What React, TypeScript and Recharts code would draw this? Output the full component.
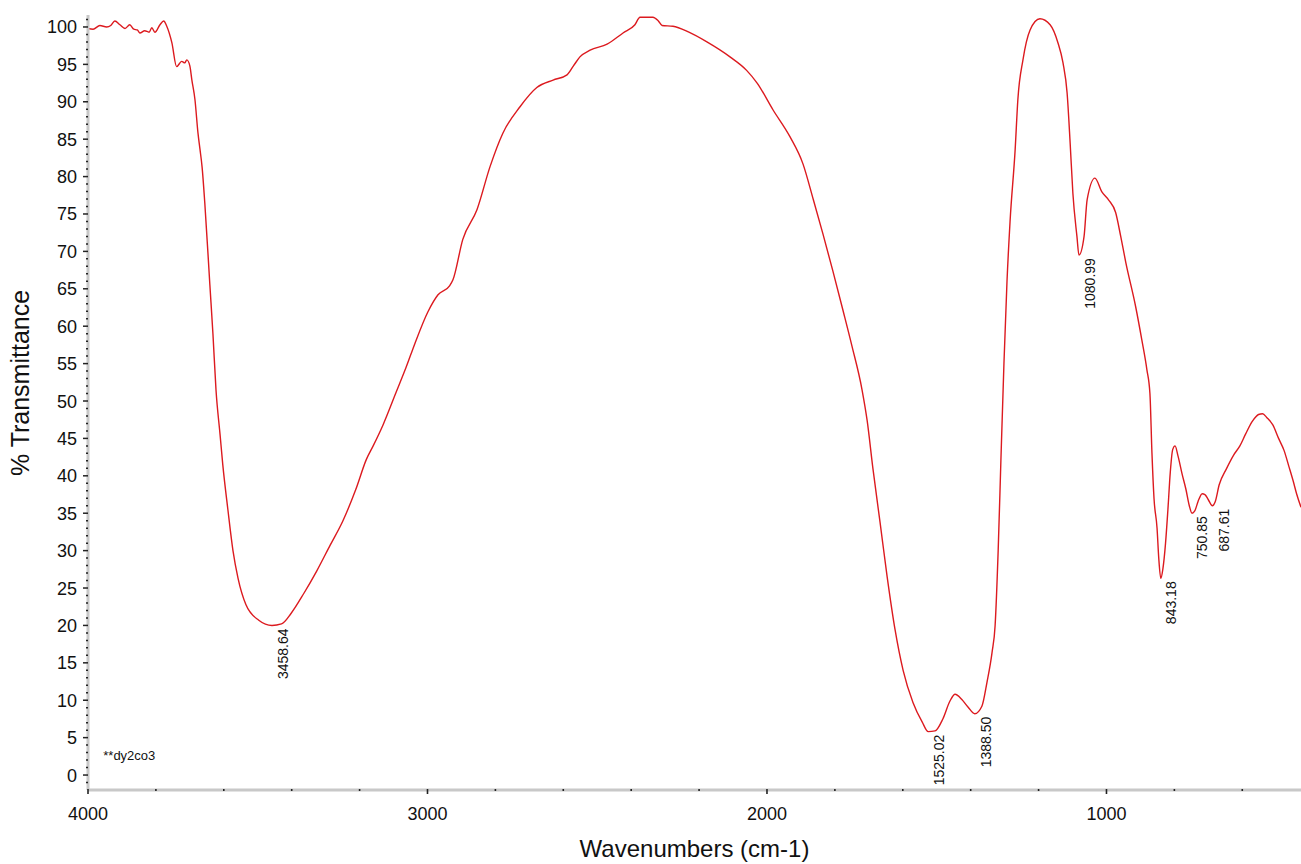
import React from "react";
import { LineChart, Line, XAxis, YAxis, ReferenceDot } from "recharts";

// FT-IR spectrum of dy2co3 (wavenumber cm-1, %T)
const wavenumbers = [
  4000, 3985, 3965, 3945, 3933, 3921, 3906, 3891, 3877, 3865, 3855, 3847, 3833, 3820, 3812, 3803,
  3788, 3777, 3768, 3753, 3739, 3724, 3715, 3709, 3700, 3694, 3685, 3676, 3670, 3664, 3656, 3641,
  3632, 3623, 3611, 3603, 3588, 3573, 3558, 3535, 3497, 3458, 3430, 3402, 3364, 3326, 3287, 3249,
  3211, 3180, 3160, 3131, 3093, 3063, 3037, 2999, 2969, 2935, 2925, 2896, 2854, 2816, 2778, 2728,
  2678, 2630, 2589, 2570, 2551, 2521, 2471, 2424, 2389, 2374, 2336, 2320, 2309, 2277, 2230, 2177,
  2109, 2060, 2029, 1982, 1932, 1894, 1864, 1835, 1806, 1776, 1750, 1720, 1705, 1688, 1667, 1646,
  1623, 1599, 1570, 1543, 1525, 1505, 1482, 1461, 1446, 1426, 1408, 1388, 1367, 1352, 1337, 1328,
  1319, 1311, 1302, 1293, 1284, 1269, 1261, 1246, 1225, 1196, 1166, 1143, 1128, 1116, 1107, 1099,
  1087, 1081, 1066, 1057, 1034, 1014, 994, 973, 958, 943, 914, 896, 881, 872, 866, 860, 851, 846,
  840, 834, 826, 819, 812, 805, 798, 789, 777, 766, 756, 748, 740, 730, 718, 710, 700, 688, 680,
  668, 646, 625, 607, 590, 570, 552, 540, 528, 510, 493, 477, 463, 450, 440, 427,
];
const transmittance = [
  99.8, 99.7, 100.2, 100.0, 100.2, 100.8, 100.3, 99.8, 100.3, 99.7, 99.6, 99.2, 99.5, 99.3, 99.9, 99.3,
  100.3, 100.8, 100.1, 97.9, 94.7, 95.4, 95.2, 95.6, 94.8, 92.9, 90.3, 85.8, 83.6, 81.3, 76.5, 65.5,
  59, 51.5, 45.5, 41.5, 35.5, 30, 26.3, 22.8, 20.7, 20.0, 20.2, 21.6, 24.3, 27.3, 30.7, 34.0,
  38.2, 42.2, 44.0, 46.8, 51.1, 54.5, 57.7, 61.9, 64.2, 65.4, 66.2, 71.6, 75.6, 81.3, 85.8, 89.3,
  91.9, 92.9, 93.6, 94.8, 96, 96.9, 97.7, 99.2, 100.3, 101.3, 101.3, 100.8, 100.2, 100.1, 99.3, 98,
  96, 94.2, 92.5, 88.9, 85.3, 81.7, 77.0, 72.3, 67.4, 62.1, 57.4, 51.5, 47.4, 41.0, 33.8, 26.5,
  19.5, 14.0, 9.7, 7.1, 5.8, 5.9, 7.5, 9.9, 10.8, 10.1, 9.1, 8.2, 9.2, 12.4, 16.4, 20,
  30, 42, 55, 66, 74, 83.6, 90.3, 95.6, 99.6, 101.1, 100.3, 97.9, 95.2, 91.2, 84.5, 77.8,
  72, 69.5, 72, 76.9, 79.8, 78, 76.9, 75.2, 72, 68.5, 62.6, 58.2, 54.2, 51, 43, 37, 33, 29,
  26.3, 27.5, 31, 35.5, 40.5, 43.5, 44, 42.6, 40.2, 38.2, 36, 35, 35.3, 36.6, 37.6, 37.5, 36.8, 36.0, 36.5,
  38.8, 41, 42.8, 44, 45.6, 47.3, 48.2, 48.3, 47.8, 46.8, 45, 43.4, 41.3, 39.3, 37.6, 35.8,
];

const peakWavenumbers = [3458.64, 1525.02, 1388.5, 1080.99, 843.18, 750.85, 687.61];
const peakValues = [20.0, 5.8, 8.2, 69.5, 26.3, 35.0, 36.0];

const xTicks = [4000, 3800, 3600, 3400, 3200, 3000, 2800, 2600, 2400, 2200, 2000, 1800, 1600, 1400, 1200, 1000, 800, 600];
const xLabelled = [4000, 3000, 2000, 1000];
const yLabelled = [0, 5, 10, 15, 20, 25, 30, 35, 40, 45, 50, 55, 60, 65, 70, 75, 80, 85, 90, 95, 100];
const yTicks = Array.from({ length: 103 }, (_, i) => i - 1);

const spectrum = wavenumbers.map((wn, i) => ({ wn, t: transmittance[i] }));

const FONT = "'Liberation Sans', Arial, sans-serif";
const RED = "#dc1a1f";

function XTick({ x, y, payload }: any) {
  const major = xLabelled.includes(payload.value);
  return (
    <g>
      <line x1={x} x2={x} y1={y - 1} y2={major ? y + 4 : y + 1} stroke="#222" strokeWidth={1.6} />
      {major && (
        <text x={x} y={y + 30} textAnchor="middle" fontSize={18} fontFamily={FONT} fill="#111">
          {payload.value}
        </text>
      )}
    </g>
  );
}

function YTick({ x, y, payload }: any) {
  const major = yLabelled.includes(payload.value);
  return (
    <g>
      <line x1={major ? x - 5 : x - 2} x2={x} y1={y} y2={y} stroke="#222" strokeWidth={1.5} />
      {major && (
        <text x={x - 11} y={y + 6.5} textAnchor="end" fontSize={18} fontFamily={FONT} fill="#111">
          {payload.value}
        </text>
      )}
    </g>
  );
}

function PeakLabel({ cx, cy, text }: any) {
  return (
    <text
      x={cx + 16}
      y={cy + 3}
      transform={`rotate(-90, ${cx + 16}, ${cy + 3})`}
      textAnchor="end"
      fontSize={14}
      fontFamily={FONT}
      fill="#111"
    >
      {text}
    </text>
  );
}

export default function App() {
  return (
    <div style={{ width: 1301, height: 864, background: "#fff" }}>
      <style>{"body{margin:0}"}</style>
      <LineChart
        width={1301}
        height={864}
        data={spectrum}
        margin={{ top: 15, right: 0, bottom: 0, left: 0 }}
      >
        <XAxis
          dataKey="wn"
          type="number"
          domain={[427, 4000]}
          reversed
          allowDataOverflow
          ticks={xTicks}
          interval={0}
          tick={<XTick />}
          tickLine={false}
          tickSize={0}
          tickMargin={0}
          height={74}
          axisLine={{ stroke: "#c8c8c8", strokeWidth: 3 }}
          label={(p: any) => (
            <text
              x={p.viewBox.x + p.viewBox.width / 2}
              y={p.viewBox.y + 67}
              textAnchor="middle"
              fontSize={24}
              fontFamily={FONT}
              fill="#111"
            >
              Wavenumbers (cm-1)
            </text>
          )}
        />
        <YAxis
          type="number"
          domain={[-2, 101.6]}
          allowDataOverflow
          ticks={yTicks}
          interval={0}
          tick={<YTick />}
          tickLine={false}
          tickSize={0}
          tickMargin={0}
          width={88}
          axisLine={{ stroke: "#c8c8c8", strokeWidth: 3 }}
          label={() => (
            <text
              x={22}
              y={383}
              transform="rotate(-90, 22, 383)"
              textAnchor="middle"
              dominantBaseline="middle"
              fontSize={25}
              fontFamily={FONT}
              fill="#111"
            >
              % Transmittance
            </text>
          )}
        />
        <Line
          type="monotone"
          dataKey="t"
          stroke={RED}
          strokeWidth={1.4}
          dot={false}
          isAnimationActive={false}
        />
        {peakWavenumbers.map((wn, i) => (
          <ReferenceDot
            key={wn}
            x={wn}
            y={peakValues[i]}
            r={0}
            shape={(p: any) => <PeakLabel cx={p.cx} cy={p.cy} text={wn.toFixed(2)} />}
          />
        ))}
        <ReferenceDot
          x={3955}
          y={2}
          r={0}
          shape={(p: any) => (
            <text x={p.cx} y={p.cy} fontSize={13} fontFamily={FONT} fill="#111">
              **dy2co3
            </text>
          )}
        />
      </LineChart>
    </div>
  );
}
